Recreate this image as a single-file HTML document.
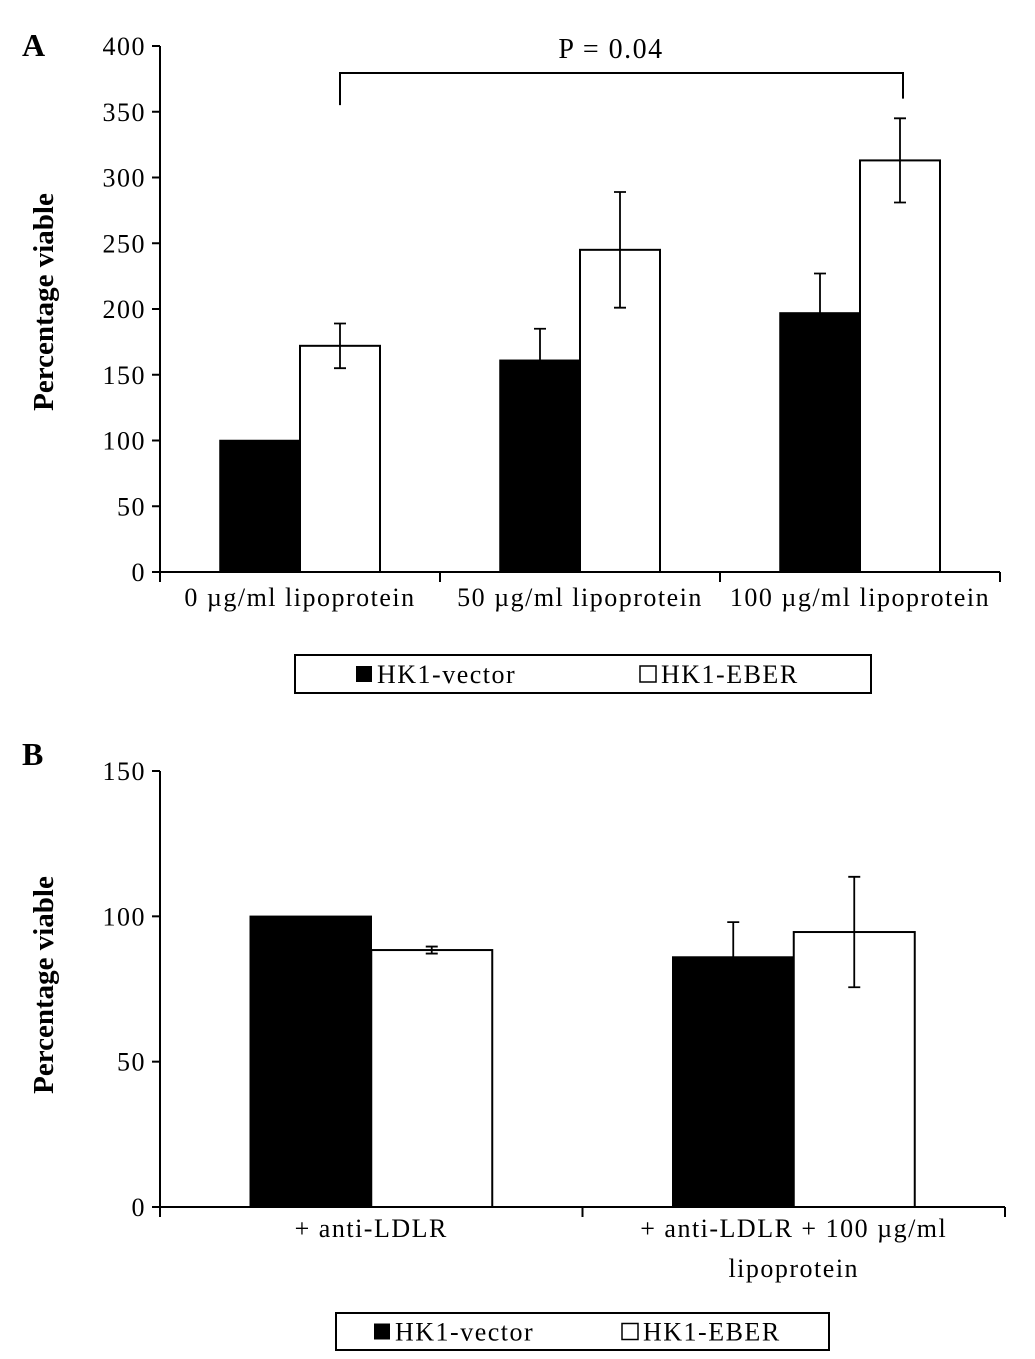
<!DOCTYPE html>
<html><head><meta charset="utf-8"><style>
html,body{margin:0;padding:0;background:#fff;}
svg{display:block;font-family:"Liberation Serif",serif;}
</style></head><body>
<svg id="c" width="1035" height="1359" viewBox="0 0 1035 1359" xmlns="http://www.w3.org/2000/svg"></svg>
<script>
// Panel A data
const catsA = ["0 \u00b5g/ml lipoprotein","50 \u00b5g/ml lipoprotein","100 \u00b5g/ml lipoprotein"];
const vectorA = [100,161,197];
const vectorErrA = [0,24,30];
const eberA = [172,245,313];
const eberErrA = [17,44,32];
const ticksA = [0,50,100,150,200,250,300,350,400];
// Panel B data
const catsB = [["+ anti-LDLR"],["+ anti-LDLR + 100 \u00b5g/ml","lipoprotein"]];
const vectorB = [100,86];
const vectorErrB = [0,12];
const eberB = [88.4,94.6];
const eberErrB = [1.2,19];
const ticksB = [0,50,100,150];

const NS="http://www.w3.org/2000/svg";
const svg=document.getElementById('c');
function mk(tag,attrs,parent){const e=document.createElementNS(NS,tag);for(const k in attrs)e.setAttribute(k,attrs[k]);(parent||svg).appendChild(e);return e;}
function txt(s,x,y,size,anchor,parent,weight,ls){const t=mk('text',{x:x,y:y,'font-size':size,'text-anchor':anchor||'middle','fill':'#000'},parent);if(weight)t.setAttribute('font-weight',weight);if(ls)t.setAttribute('letter-spacing',ls);t.textContent=s;return t;}

function panel(o){
  const g=mk('g',{});
  
  
  const y=v=>o.y0-(v-0)/o.max*(o.y0-o.yTop);
  const n=o.cats.length, gw=(o.x1-o.x0)/n;
  const ax=mk('line',{x1:o.x0,y1:o.yTop,x2:o.x0,y2:o.y0,stroke:'#000','stroke-width':2},g);
  
  
  o.ticks.forEach(t=>{
    mk('line',{x1:o.x0-8,y1:y(t),x2:o.x0,y2:y(t),stroke:'#000','stroke-width':2},g);
    const l=txt(String(t),o.x0-14,y(t)+9,26,'end',g,null,1.5);
    
    
  });
  o.cats.forEach((c,i)=>{
    const cx=o.x0+gw*(i+0.5);
    const bv=mk('rect',{x:cx-o.bw,y:y(o.v1[i]),width:o.bw,height:o.y0-y(o.v1[i]),fill:'#000',stroke:'#000','stroke-width':1.5},g);
    
    
    const be=mk('rect',{x:cx,y:y(o.v2[i]),width:o.bw,height:o.y0-y(o.v2[i]),fill:'#fff',stroke:'#000','stroke-width':2},g);
    
    
    [[cx-o.bw/2,o.v1[i],o.e1[i]],[cx+o.bw/2,o.v2[i],o.e2[i]]].forEach(([ex,v,e])=>{
      if(e<=0)return;
      const eb=mk('path',{d:`M${ex},${y(v+e)}V${y(v-e)}M${ex-6},${y(v+e)}H${ex+6}M${ex-6},${y(v-e)}H${ex+6}`,stroke:'#000','stroke-width':1.8,fill:'none'},g);
      
      
    });
    const lines=Array.isArray(c)?c:[c];
    lines.forEach((s,j)=>{
      const l=txt(s,cx,o.y0+o.lblDy+j*40,26,'middle',g,null,1.5);
      
      
    });
  });
  const xa=mk('line',{x1:o.x0,y1:o.y0,x2:o.x1,y2:o.y0,stroke:'#000','stroke-width':2},g);
  
  
  for(let i=0;i<=n;i++){const tx=o.x0+gw*i;mk('line',{x1:tx,y1:o.y0,x2:tx,y2:o.y0+10,stroke:'#000','stroke-width':2},g);}
  const yt=txt('Percentage viable',0,0,29,'middle',g,'bold');
  yt.setAttribute('transform',`translate(53,${o.ytc}) rotate(-90)`);
  
  
  const pl=txt(o.letter,22,o.letterY,32,'start',g,'bold');
  
  
  const lg=mk('g',{},g);
  
  
  mk('rect',{x:o.lg[0],y:o.lg[1],width:o.lg[2],height:o.lg[3],fill:'#fff',stroke:'#000','stroke-width':2},lg);
  const my=o.lg[1]+o.lg[3]/2;
  const e1=mk('g',{},lg);
  
  
  mk('rect',{x:o.lgx[0],y:my-8,width:16,height:16,fill:'#000'},e1);
  txt('HK1-vector',o.lgx[0]+21,my+9,26,'start',e1,null,1.5);
  const e2=mk('g',{},lg);
  
  
  mk('rect',{x:o.lgx[1],y:my-8,width:16,height:16,fill:'#fff',stroke:'#000','stroke-width':1.5},e2);
  txt('HK1-EBER',o.lgx[1]+21,my+9,26,'start',e2,null,1.5);
  return {g,y,gw};
}

const A=panel({name:'panel-a',x0:160,x1:1000,y0:572,yTop:46,max:400,ticks:ticksA,cats:catsA,v1:vectorA,e1:vectorErrA,v2:eberA,e2:eberErrA,bw:80,ytc:302,letter:'A',letterY:56,lg:[295,655,576,38],lgx:[356,640],lblDy:34});
const br=mk('path',{d:`M340,${A.y(355)}V73H903V${A.y(360)}`,stroke:'#000','stroke-width':2,fill:'none'},A.g);


const pv=txt('P = 0.04',611,58,28,'middle',A.g,null,1.5);



panel({name:'panel-b',x0:160,x1:1005,y0:1207,yTop:771,max:150,ticks:ticksB,cats:catsB,v1:vectorB,e1:vectorErrB,v2:eberB,e2:eberErrB,bw:121,ytc:985,letter:'B',letterY:765,lg:[336,1313,493,37],lgx:[374,622],lblDy:30});
</script>
</body></html>
